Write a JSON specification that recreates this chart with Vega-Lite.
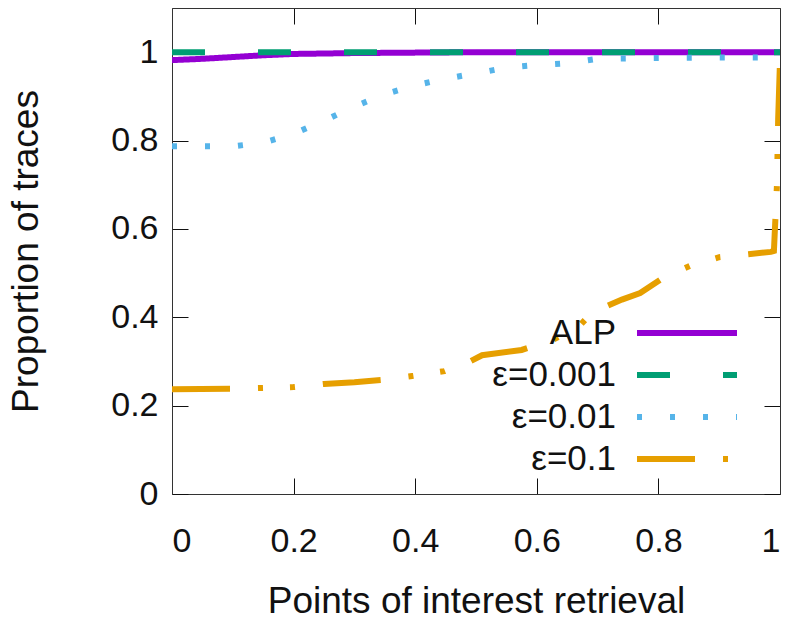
{
  "$schema": "https://vega.github.io/schema/vega-lite/v6.json",
  "width": 608,
  "height": 486,
  "autosize": {"type": "none"},
  "padding": {"left": 172, "top": 8, "right": 12, "bottom": 125},
  "background": "white",
  "config": {
    "view": {"stroke": null},
    "font": "Liberation Sans",
    "axis": {"grid": false, "domainColor": "#333333", "domainWidth": 1, "tickColor": "#111111", "tickWidth": 1, "labelFont": "Liberation Sans", "titleFont": "Liberation Sans", "labelColor": "#111111", "titleColor": "#111111", "titleFontWeight": "normal"}
  },
  "data": {
    "values": [
      {"x": 0, "y": 0.982, "series": "ALP"},
      {"x": 0.05, "y": 0.985, "series": "ALP"},
      {"x": 0.1, "y": 0.989, "series": "ALP"},
      {"x": 0.15, "y": 0.993, "series": "ALP"},
      {"x": 0.2, "y": 0.996, "series": "ALP"},
      {"x": 0.3, "y": 0.998, "series": "ALP"},
      {"x": 0.4, "y": 0.999, "series": "ALP"},
      {"x": 0.5, "y": 1.0, "series": "ALP"},
      {"x": 1.0, "y": 1.0, "series": "ALP"},
      {"x": 0, "y": 1.0, "series": "ε=0.001"},
      {"x": 1.0, "y": 1.0, "series": "ε=0.001"},
      {"x": 0, "y": 0.787, "series": "ε=0.01"},
      {"x": 0.1, "y": 0.787, "series": "ε=0.01"},
      {"x": 0.15, "y": 0.795, "series": "ε=0.01"},
      {"x": 0.2, "y": 0.815, "series": "ε=0.01"},
      {"x": 0.25, "y": 0.845, "series": "ε=0.01"},
      {"x": 0.3, "y": 0.877, "series": "ε=0.01"},
      {"x": 0.35, "y": 0.905, "series": "ε=0.01"},
      {"x": 0.4, "y": 0.925, "series": "ε=0.01"},
      {"x": 0.45, "y": 0.94, "series": "ε=0.01"},
      {"x": 0.5, "y": 0.952, "series": "ε=0.01"},
      {"x": 0.55, "y": 0.965, "series": "ε=0.01"},
      {"x": 0.6, "y": 0.971, "series": "ε=0.01"},
      {"x": 0.65, "y": 0.975, "series": "ε=0.01"},
      {"x": 0.7, "y": 0.985, "series": "ε=0.01"},
      {"x": 0.8, "y": 0.987, "series": "ε=0.01"},
      {"x": 0.9, "y": 0.988, "series": "ε=0.01"},
      {"x": 1.0, "y": 0.988, "series": "ε=0.01"},
      {"x": 0, "y": 0.237, "series": "ε=0.1"},
      {"x": 0.1, "y": 0.238, "series": "ε=0.1"},
      {"x": 0.15, "y": 0.24, "series": "ε=0.1"},
      {"x": 0.2, "y": 0.242, "series": "ε=0.1"},
      {"x": 0.25, "y": 0.249, "series": "ε=0.1"},
      {"x": 0.3, "y": 0.253, "series": "ε=0.1"},
      {"x": 0.345, "y": 0.258, "series": "ε=0.1"},
      {"x": 0.395, "y": 0.267, "series": "ε=0.1"},
      {"x": 0.448, "y": 0.278, "series": "ε=0.1"},
      {"x": 0.49, "y": 0.3, "series": "ε=0.1"},
      {"x": 0.51, "y": 0.314, "series": "ε=0.1"},
      {"x": 0.575, "y": 0.326, "series": "ε=0.1"},
      {"x": 0.625, "y": 0.348, "series": "ε=0.1"},
      {"x": 0.67, "y": 0.38, "series": "ε=0.1"},
      {"x": 0.69, "y": 0.41, "series": "ε=0.1"},
      {"x": 0.74, "y": 0.44, "series": "ε=0.1"},
      {"x": 0.77, "y": 0.455, "series": "ε=0.1"},
      {"x": 0.81, "y": 0.491, "series": "ε=0.1"},
      {"x": 0.855, "y": 0.518, "series": "ε=0.1"},
      {"x": 0.9, "y": 0.536, "series": "ε=0.1"},
      {"x": 0.985, "y": 0.548, "series": "ε=0.1"},
      {"x": 0.99, "y": 0.55, "series": "ε=0.1"},
      {"x": 0.995, "y": 0.7, "series": "ε=0.1"},
      {"x": 0.997, "y": 0.85, "series": "ε=0.1"},
      {"x": 1.0, "y": 0.98, "series": "ε=0.1"}
    ]
  },
  "layer": [
    {
      "mark": {"type": "line", "strokeWidth": 6, "strokeCap": "butt", "clip": true},
      "encoding": {
        "x": {"field": "x", "type": "quantitative", "scale": {"domain": [0, 1], "nice": false},
          "axis": {"orient": "bottom", "values": [0, 0.2, 0.4, 0.6, 0.8, 1], "format": "~g", "tickSize": -16, "labelPadding": 46, "labelFontSize": 34, "title": "Points of interest retrieval", "titleFontSize": 37, "titlePadding": 25}},
        "y": {"field": "y", "type": "quantitative", "scale": {"domain": [0, 1.1], "nice": false, "zero": false},
          "axis": {"orient": "left", "values": [0, 0.2, 0.4, 0.6, 0.8, 1], "format": "~g", "tickSize": -16, "labelPadding": 30, "labelFontSize": 34, "title": "Proportion of traces", "titleFontSize": 37, "titlePadding": 65}},
        "color": {"field": "series", "type": "nominal",
          "scale": {"domain": ["ALP", "ε=0.001", "ε=0.01", "ε=0.1"], "range": ["#9400D3", "#009E73", "#56B4E9", "#E69F00"]},
          "legend": {"orient": "none", "legendX": 495, "legendY": 305, "title": null, "symbolType": "M-3,0H3", "symbolSize": 1111, "symbolStrokeWidth": 6, "labelFontSize": 35, "labelAlign": "right", "labelOffset": -91, "rowPadding": 4, "padding": 0, "labelFont": "Liberation Sans", "labelColor": "#111111"}},
        "strokeDash": {"field": "series", "type": "nominal",
          "scale": {"domain": ["ALP", "ε=0.001", "ε=0.01", "ε=0.1"], "range": [[1, 0], [33, 53], [5, 28], [58, 28, 5, 27, 5, 28]]},
          "legend": {"orient": "none", "legendX": 495, "legendY": 305, "title": null, "symbolType": "M-3,0H3", "symbolSize": 1111, "symbolStrokeWidth": 6, "labelFontSize": 35, "labelAlign": "right", "labelOffset": -91, "rowPadding": 4, "padding": 0, "labelFont": "Liberation Sans", "labelColor": "#111111"}}
      }
    },
    {
      "mark": {"type": "point", "opacity": 0},
      "encoding": {
        "x": {"field": "x", "type": "quantitative", "axis": {"orient": "top", "values": [0, 0.2, 0.4, 0.6, 0.8, 1], "tickSize": -16, "labels": false, "title": null}},
        "y": {"field": "y", "type": "quantitative", "axis": {"orient": "right", "values": [0, 0.2, 0.4, 0.6, 0.8, 1], "tickSize": -16, "labels": false, "title": null}}
      }
    }
  ],
  "resolve": {"axis": {"x": "independent", "y": "independent"}}
}
